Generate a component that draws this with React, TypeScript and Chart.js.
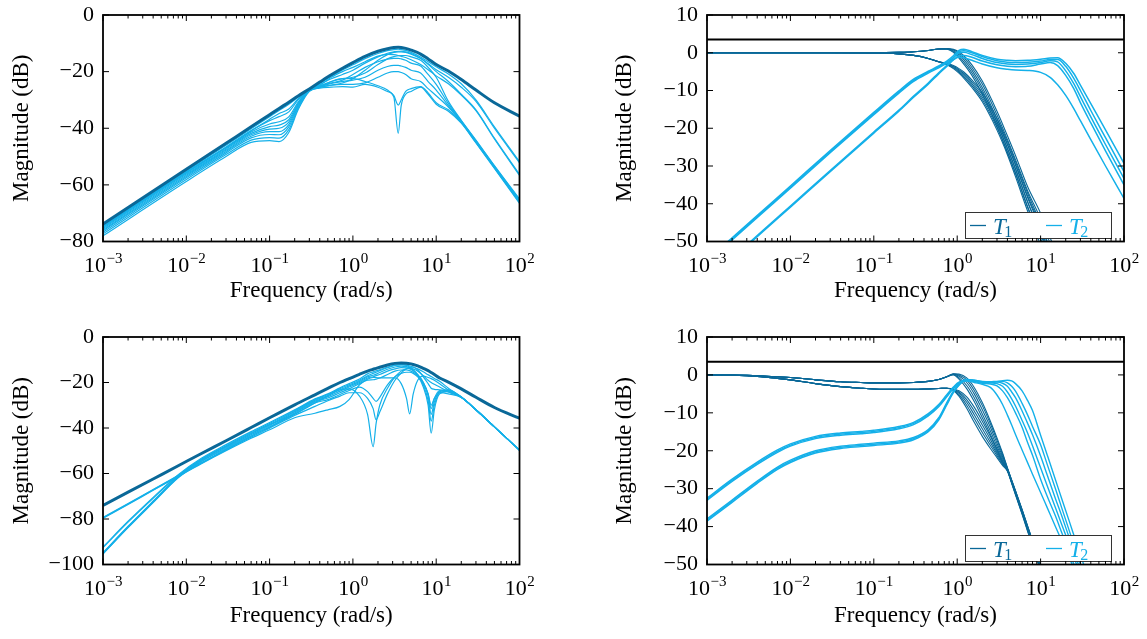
import React, { useEffect, useRef } from "react";
import { Chart, registerables } from "chart.js";

Chart.register(...registerables);

const DARK = "#0a6898";
const LIGHT = "#14b0e9";
const FONT = '"Liberation Serif", "Times New Roman", serif';

const X_TICK_VALUES = [0.001, 0.01, 0.1, 1, 10, 100];
const X_TICK_EXPONENTS = ["\u22123", "\u22122", "\u22121", "0", "1", "2"];
const X_TITLE = "Frequency (rad/s)";
const Y_TITLE = "Magnitude (dB)";
const LEGEND_LABELS = ["1", "2"];
const REF_FREQ = [0.001, 100];
const REF_LEVEL = [3.5, 3.5];

// ---------- Panel A (top-left) ----------
const FREQ_A = [0.001, 0.01, 0.03, 0.06, 0.1, 0.13, 0.17, 0.22, 0.3, 0.4, 0.55, 0.75, 1, 1.4, 2, 2.6, 3.1, 3.5, 3.8, 4.3, 5, 6.5, 8, 10, 14, 20, 30, 50, 100];
const A_DARK = [-73.8, -54.5, -45.3, -39.5, -35.2, -33.0, -30.8, -28.6, -26.1, -23.7, -21.1, -18.8, -16.8, -14.6, -12.8, -11.9, -11.5, -11.4, -11.5, -11.8, -12.4, -13.8, -15.5, -17.5, -19.8, -22.8, -26.5, -31.0, -35.7];
const A_L1 = [-74.3, -55.1, -46.0, -40.2, -35.9, -33.7, -31.5, -29.0, -26.3, -24.2, -21.6, -19.4, -17.6, -15.4, -13.6, -12.6, -12.2, -12.1, -12.2, -12.5, -13.2, -14.8, -16.5, -18.3, -20.8, -24.3, -30.0, -39.5, -51.8];
const A_L2 = [-74.6, -55.4, -46.6, -40.8, -37.3, -35.9, -34.2, -30.0, -26.3, -24.6, -22.5, -21.0, -19.5, -17.0, -14.8, -13.5, -13.0, -12.8, -12.8, -13.0, -13.6, -15.3, -17.4, -20.0, -23.5, -28.0, -33.5, -43.5, -56.3];
const A_L3 = [-75.0, -55.8, -47.0, -41.3, -38.5, -37.7, -36.0, -30.8, -26.4, -25.0, -23.5, -22.5, -22.0, -20.5, -17.5, -15.5, -14.7, -14.4, -14.3, -14.3, -14.8, -16.0, -18.5, -22.0, -30.5, -37.2, -44.2, -53.2, -65.0];
const A_L4 = [-75.4, -56.2, -47.4, -41.8, -39.4, -38.9, -37.0, -31.2, -26.5, -25.2, -24.0, -23.0, -21.0, -18.5, -16.5, -15.6, -15.3, -15.3, -15.5, -16.0, -17.0, -18.0, -21.0, -24.5, -31.3, -37.4, -44.4, -53.4, -65.3];
const A_L5 = [-75.8, -56.6, -47.8, -42.3, -40.3, -40.0, -37.8, -31.6, -26.6, -25.3, -24.2, -23.5, -23.0, -22.0, -19.5, -18.2, -17.8, -17.8, -18.0, -18.5, -19.5, -20.5, -23.5, -26.5, -32.0, -37.6, -44.6, -53.6, -65.6];
const A_L6 = [-76.2, -57.0, -48.2, -42.8, -41.2, -41.2, -38.7, -32.0, -26.7, -25.5, -24.8, -24.5, -24.5, -24.0, -22.0, -20.5, -20.0, -20.0, -20.3, -21.0, -22.5, -23.5, -26.0, -28.5, -32.5, -37.8, -44.8, -53.8, -65.9];
const A_L7 = [-76.7, -57.5, -48.7, -43.4, -42.2, -42.3, -39.5, -32.5, -26.8, -25.3, -23.5, -22.5, -22.5, -23.5, -25.0, -26.5, -28.5, -31.8, -30.0, -27.0, -26.0, -25.3, -27.5, -31.0, -33.5, -38.0, -45.0, -54.0, -66.2];
const A_L8 = [-77.3, -58.1, -49.3, -44.2, -43.3, -43.5, -40.5, -33.0, -26.9, -25.8, -25.5, -25.3, -25.5, -24.5, -25.5, -27.0, -29.0, -41.8, -32.0, -28.0, -27.0, -25.5, -28.0, -31.5, -34.0, -38.2, -45.2, -54.2, -66.5];
const A_L9 = [-78.0, -58.8, -50.0, -45.0, -44.4, -44.7, -41.5, -33.5, -27.0, -25.6, -24.8, -24.0, -22.5, -19.5, -16.0, -14.0, -13.2, -13.0, -13.0, -13.2, -13.8, -15.4, -17.2, -19.3, -22.0, -25.5, -30.5, -40.0, -52.2];
const A_L10 = [-74.8, -55.6, -46.8, -41.0, -36.8, -34.8, -33.2, -29.6, -26.3, -24.8, -22.0, -20.0, -18.5, -16.5, -14.5, -13.9, -14.0, -14.3, -14.6, -15.0, -15.8, -17.5, -19.3, -21.5, -24.3, -28.3, -33.8, -43.8, -56.7];

// ---------- Panel B (top-right) ----------
const FREQ_B = [0.001, 0.002, 0.005, 0.01, 0.03, 0.1, 0.2, 0.3, 0.45, 0.6, 0.75, 0.9, 1.05, 1.2, 1.5, 2, 3, 4, 5, 7, 10, 13, 16, 20, 25, 30, 40, 60, 100];
const B_T1_U1 = [0, 0, 0, 0, 0, 0, 0.1, 0.25, 0.6, 1.0, 1.1, 0.9, 0.2, -0.8, -3.2, -7.5, -15.5, -22.0, -27.2, -35.5, -42.5, -49.0, -54.0, -59.0, -64.0, -68.0, -75.0, -85.0, -98.0];
const B_T1_U2 = [0, 0, 0, 0, 0, 0, 0.1, 0.25, 0.6, 1.0, 1.1, 0.7, -0.2, -1.3, -3.9, -8.3, -16.5, -23.0, -28.3, -36.6, -44.0, -50.5, -55.5, -60.5, -65.5, -69.5, -76.5, -86.5, -99.5];
const B_T1_U3 = [0, 0, 0, 0, 0, 0, 0.1, 0.25, 0.6, 1.0, 1.05, 0.5, -0.6, -1.8, -4.6, -9.2, -17.5, -24.2, -29.5, -38.0, -45.8, -52.3, -57.3, -62.3, -67.3, -71.3, -78.3, -88.3, -101.0];
const B_T1_U4 = [0, 0, 0, 0, 0, 0, 0.1, 0.25, 0.6, 1.0, 1.0, 0.3, -1.0, -2.4, -5.3, -10.0, -18.5, -25.4, -30.8, -39.5, -47.5, -54.0, -59.0, -64.0, -69.0, -73.0, -80.0, -90.0, -103.0];
const B_T1_U5 = [0, 0, 0, 0, 0, 0, 0.1, 0.25, 0.6, 1.0, 0.95, 0.1, -1.4, -3.0, -6.0, -10.9, -19.5, -26.5, -32.0, -41.0, -49.2, -55.7, -60.7, -65.7, -70.7, -74.7, -81.7, -91.7, -105.0];
const B_T1_L1 = [0, 0, 0, 0, 0, -0.05, -0.3, -0.7, -1.5, -2.4, -3.2, -4.2, -5.4, -6.7, -9.2, -13.0, -20.5, -27.0, -32.8, -42.0, -51.0, -58.0, -63.0, -68.0, -73.0, -77.0, -84.0, -94.0, -107.0];
const B_T1_L2 = [0, 0, 0, 0, 0, -0.05, -0.3, -0.7, -1.5, -2.4, -3.1, -4.0, -5.1, -6.3, -8.7, -12.4, -19.8, -26.2, -31.8, -40.8, -49.5, -56.5, -61.5, -66.5, -71.5, -75.5, -82.5, -92.5, -105.0];
const B_T1_L3 = [0, 0, 0, 0, 0, -0.05, -0.3, -0.7, -1.5, -2.4, -3.0, -3.8, -4.8, -5.9, -8.2, -11.8, -19.0, -25.3, -30.8, -39.6, -48.0, -55.0, -60.0, -65.0, -70.0, -74.0, -81.0, -91.0, -104.0];
const B_T1_L4 = [0, 0, 0, 0, 0, -0.05, -0.3, -0.7, -1.5, -2.4, -2.9, -3.6, -4.5, -5.5, -7.7, -11.2, -18.2, -24.4, -29.8, -38.4, -46.6, -53.5, -58.5, -63.5, -68.5, -72.5, -79.5, -89.5, -102.0];
const B_T1_L5 = [0, 0, 0, 0, 0, -0.05, -0.3, -0.7, -1.5, -2.4, -2.8, -3.4, -4.2, -5.1, -7.2, -10.6, -17.4, -23.5, -28.8, -37.2, -45.2, -52.0, -57.0, -62.0, -67.0, -71.0, -78.0, -88.0, -101.0];
const B_T2_U1 = [-55.0, -49.0, -41.2, -35.3, -25.9, -15.8, -10.1, -7.0, -4.9, -3.5, -2.2, -0.8, 0.6, 0.9, 0.3, -0.7, -1.7, -2.0, -2.1, -2.0, -1.7, -1.4, -1.3, -2.8, -5.5, -8.6, -13.5, -20.4, -29.3];
const B_T2_D1 = [-60.3, -54.4, -46.5, -40.6, -31.2, -21.0, -15.2, -11.5, -8.0, -5.3, -3.3, -1.3, 0.2, 0.5, 0.0, -1.0, -2.1, -2.5, -2.6, -2.5, -2.2, -1.8, -1.8, -3.6, -6.8, -10.0, -15.3, -22.5, -31.5];
const B_T2_U2 = [-55.3, -49.3, -41.5, -35.6, -26.2, -16.1, -10.4, -7.3, -5.1, -3.7, -2.5, -1.3, -0.1, 0.1, -0.5, -1.5, -2.6, -3.0, -3.1, -3.0, -2.6, -2.1, -2.4, -4.8, -8.2, -11.6, -17.0, -24.3, -33.3];
const B_T2_D2 = [-60.6, -54.7, -46.8, -40.9, -31.5, -21.3, -15.5, -11.8, -8.3, -5.6, -3.6, -1.9, -0.8, -0.7, -1.2, -2.2, -3.2, -3.6, -3.7, -3.6, -3.0, -2.6, -3.4, -6.0, -9.5, -13.2, -18.6, -26.0, -35.0];
const B_T2_U3 = [-55.6, -49.6, -41.8, -35.9, -26.5, -16.4, -10.7, -7.6, -5.4, -4.0, -2.8, -1.8, -1.2, -1.3, -2.0, -3.0, -4.0, -4.4, -4.6, -4.7, -5.2, -6.5, -8.5, -11.3, -14.8, -18.0, -23.0, -30.0, -38.6];

// ---------- Panel C (bottom-left) ----------
const FREQ_C = [0.001, 0.002, 0.004, 0.008, 0.015, 0.03, 0.06, 0.1, 0.2, 0.35, 0.5, 0.7, 0.9, 1.2, 1.5, 1.75, 1.9, 2.1, 2.6, 3.2, 3.8, 4.4, 4.8, 5.3, 6, 7, 8, 8.7, 9.5, 11, 14, 20, 30, 50, 100];
const C_DARK = [-74.0, -68.2, -62.4, -56.6, -51.3, -45.6, -39.8, -35.5, -29.8, -25.4, -22.6, -20.0, -18.3, -16.4, -15.0, -14.2, -13.8, -13.3, -12.3, -11.6, -11.4, -11.5, -11.7, -12.1, -12.7, -13.8, -14.8, -15.6, -16.5, -18.0, -19.8, -22.8, -26.5, -31.0, -35.7];
const C_L1 = [-79.3, -73.2, -67.0, -60.9, -55.4, -49.4, -43.6, -39.6, -34.0, -29.0, -25.8, -23.2, -22.8, -26.0, -34.0, -48.2, -38.0, -30.0, -22.5, -17.5, -15.0, -14.0, -13.8, -14.0, -15.0, -17.0, -19.0, -20.0, -20.8, -22.0, -24.0, -26.5, -32.0, -39.5, -49.7];
const C_L2 = [-79.5, -73.4, -67.2, -61.1, -55.6, -49.7, -44.0, -40.1, -34.5, -30.5, -28.0, -26.0, -24.5, -24.5, -27.0, -31.5, -36.4, -33.0, -25.0, -19.0, -15.8, -14.0, -13.4, -13.3, -14.5, -17.5, -20.5, -22.5, -23.0, -23.2, -24.2, -26.5, -32.1, -39.6, -49.8];
const C_L3 = [-79.7, -73.6, -67.4, -61.3, -55.8, -50.0, -44.5, -40.8, -35.5, -33.5, -32.0, -30.5, -27.5, -21.0, -18.5, -17.8, -17.8, -18.0, -18.0, -18.0, -20.5, -27.0, -33.8, -25.0, -19.0, -17.2, -17.8, -18.3, -19.0, -20.5, -23.3, -26.4, -32.0, -39.5, -49.7];
const C_L4 = [-94.8, -83.2, -72.1, -61.2, -54.0, -47.8, -42.0, -38.0, -32.3, -27.5, -25.3, -22.7, -21.0, -19.0, -17.0, -16.0, -15.5, -14.8, -13.5, -12.5, -12.2, -12.5, -13.2, -14.5, -17.0, -22.0, -30.0, -42.3, -32.0, -25.0, -24.0, -26.5, -32.0, -39.5, -49.7];
const C_L5 = [-95.0, -83.4, -72.4, -61.5, -54.3, -48.2, -42.5, -38.5, -32.6, -27.8, -25.7, -23.2, -21.5, -19.5, -17.5, -16.8, -16.3, -15.6, -14.2, -13.2, -12.8, -13.0, -13.5, -14.5, -16.5, -21.0, -28.0, -37.0, -30.0, -24.5, -23.8, -26.5, -32.0, -39.5, -49.7];
const C_L6 = [-95.2, -83.6, -72.6, -61.7, -54.6, -48.6, -43.0, -39.0, -33.0, -28.2, -26.2, -23.8, -22.0, -20.0, -18.0, -17.5, -17.0, -16.5, -15.0, -14.0, -13.5, -13.6, -14.0, -14.8, -16.5, -20.0, -26.0, -34.0, -28.5, -24.0, -23.5, -26.5, -32.0, -39.5, -49.7];
const C_L7 = [-95.4, -83.8, -72.8, -61.9, -54.9, -49.0, -43.5, -39.6, -33.4, -28.6, -26.8, -24.5, -22.8, -20.5, -19.0, -18.8, -18.5, -18.0, -16.5, -15.0, -14.5, -14.5, -14.8, -15.5, -17.0, -20.0, -25.0, -31.5, -27.0, -23.5, -23.2, -26.5, -32.0, -39.5, -49.7];
const C_L8 = [-92.6, -81.4, -70.9, -60.9, -53.9, -48.0, -42.4, -38.5, -33.8, -29.0, -27.5, -25.3, -23.5, -22.0, -24.0, -27.0, -28.3, -26.5, -21.0, -17.5, -16.0, -15.5, -15.5, -16.0, -17.5, -20.5, -25.0, -30.0, -27.0, -24.5, -25.0, -26.6, -32.0, -39.5, -49.7];
const C_L9 = [-92.3, -81.0, -70.5, -60.5, -53.4, -47.3, -41.6, -37.6, -32.0, -27.2, -25.0, -22.3, -20.5, -18.5, -16.2, -15.3, -14.9, -14.4, -13.3, -12.4, -12.1, -12.3, -12.7, -13.2, -14.0, -15.3, -16.6, -17.4, -18.2, -19.5, -22.5, -26.3, -32.0, -39.5, -49.7];

// ---------- Panel D (bottom-right) ----------
const FREQ_D = [0.001, 0.002, 0.004, 0.007, 0.01, 0.02, 0.04, 0.07, 0.1, 0.2, 0.3, 0.45, 0.6, 0.75, 0.9, 1.05, 1.3, 1.6, 2, 2.5, 3, 3.5, 4, 4.5, 5, 6, 7, 8, 10, 12, 15, 18, 22, 27, 35, 50, 100];
const D_T1_U1 = [0, -0.05, -0.2, -0.5, -0.7, -1.3, -1.8, -2.0, -2.1, -2.1, -2.0, -1.7, -1.2, -0.5, 0.3, 0.2, -0.8, -3.3, -7.3, -12.2, -16.6, -20.6, -24.5, -27.7, -30.5, -35.5, -39.9, -43.7, -50.2, -55.7, -61.7, -66.7, -71.7, -77.7, -84.7, -94.7, -112.7];
const D_T1_U2 = [0, -0.05, -0.2, -0.5, -0.7, -1.3, -1.8, -2.0, -2.1, -2.1, -2.0, -1.7, -1.2, -0.5, 0.25, 0.0, -1.3, -4.1, -8.1, -12.9, -17.2, -21.0, -24.6, -27.8, -30.6, -35.6, -40.0, -43.8, -50.3, -55.8, -61.8, -66.8, -71.8, -77.8, -84.8, -94.8, -112.8];
const D_T1_U3 = [0, -0.05, -0.2, -0.5, -0.7, -1.3, -1.8, -2.0, -2.1, -2.1, -2.0, -1.7, -1.2, -0.5, 0.2, -0.3, -2.0, -5.0, -9.2, -13.8, -18.0, -21.5, -24.7, -27.9, -30.7, -35.7, -40.1, -43.9, -50.4, -55.9, -61.9, -66.9, -71.9, -77.9, -84.9, -94.9, -112.9];
const D_T1_U4 = [0, -0.05, -0.2, -0.5, -0.7, -1.3, -1.8, -2.0, -2.1, -2.1, -2.0, -1.7, -1.2, -0.5, 0.1, -0.7, -2.8, -6.0, -10.3, -14.8, -18.8, -22.0, -24.8, -28.0, -30.8, -35.8, -40.2, -44.0, -50.5, -56.0, -62.0, -67.0, -72.0, -78.0, -85.0, -95.0, -113.0];
const D_T1_U5 = [0, -0.05, -0.2, -0.5, -0.7, -1.3, -1.8, -2.0, -2.1, -2.1, -2.0, -1.7, -1.2, -0.5, 0.0, -1.1, -3.6, -7.0, -11.3, -15.7, -19.5, -22.5, -24.9, -28.1, -30.9, -35.9, -40.3, -44.1, -50.6, -56.1, -62.1, -67.1, -72.1, -78.1, -85.1, -95.1, -113.1];
const D_T1_L1 = [0, -0.1, -0.4, -0.9, -1.3, -2.3, -3.1, -3.5, -3.7, -3.8, -3.8, -3.7, -3.6, -3.5, -3.7, -4.2, -5.8, -8.5, -12.2, -16.2, -19.8, -22.8, -25.0, -28.2, -31.0, -36.1, -40.5, -44.3, -50.8, -56.3, -62.3, -67.3, -72.3, -78.3, -85.3, -95.3, -113.3];
const D_T1_L2 = [0, -0.1, -0.4, -0.9, -1.3, -2.3, -3.1, -3.5, -3.7, -3.8, -3.8, -3.7, -3.6, -3.5, -3.8, -4.5, -6.5, -9.5, -13.2, -17.0, -20.3, -23.0, -25.1, -28.3, -31.2, -36.3, -40.7, -44.5, -51.0, -56.5, -62.5, -67.5, -72.5, -78.5, -85.5, -95.5, -113.5];
const D_T1_L3 = [0, -0.1, -0.4, -0.9, -1.3, -2.3, -3.1, -3.5, -3.7, -3.8, -3.8, -3.7, -3.6, -3.5, -3.9, -4.8, -7.2, -10.5, -14.2, -17.8, -20.8, -23.3, -25.2, -28.4, -31.3, -36.4, -40.9, -44.7, -51.2, -56.7, -62.7, -67.7, -72.7, -78.7, -85.7, -95.7, -113.7];
const D_T1_L4 = [0, -0.1, -0.4, -0.9, -1.3, -2.3, -3.1, -3.5, -3.7, -3.8, -3.8, -3.7, -3.6, -3.5, -4.0, -5.2, -8.0, -11.5, -15.2, -18.6, -21.3, -23.6, -25.3, -28.5, -31.5, -36.6, -41.1, -44.9, -51.4, -56.9, -62.9, -67.9, -72.9, -78.9, -85.9, -95.9, -113.9];
const D_T1_L5 = [0, -0.1, -0.4, -0.9, -1.3, -2.3, -3.1, -3.5, -3.7, -3.8, -3.8, -3.7, -3.6, -3.5, -4.1, -5.6, -8.8, -12.5, -16.2, -19.4, -21.8, -23.9, -25.4, -28.6, -31.6, -36.8, -41.3, -45.1, -51.6, -57.1, -63.1, -68.1, -73.1, -79.1, -86.1, -96.1, -114.1];
const D_T2_E1 = [-32.5, -27.5, -23.0, -19.8, -18.2, -16.2, -15.3, -14.9, -14.6, -13.6, -12.5, -10.2, -7.8, -5.2, -3.2, -1.9, -1.6, -2.0, -2.5, -3.3, -5.3, -7.8, -10.6, -13.2, -15.7, -19.8, -23.2, -26.2, -31.0, -35.0, -39.9, -43.8, -48.2, -52.6, -58.2, -66.0, -81.0];
const D_T2_E2 = [-38.0, -33.0, -28.0, -24.3, -22.5, -20.0, -18.8, -18.3, -18.0, -17.4, -16.5, -14.4, -11.3, -7.3, -4.3, -2.5, -1.4, -1.8, -2.2, -2.4, -2.9, -4.2, -6.0, -8.0, -10.0, -13.8, -17.9, -21.2, -27.5, -32.0, -37.1, -41.7, -46.7, -51.8, -58.0, -67.0, -84.0];
const D_T2_E3 = [-32.8, -27.8, -23.3, -20.1, -18.5, -16.5, -15.6, -15.2, -14.9, -13.9, -12.8, -10.5, -8.1, -5.5, -3.4, -2.0, -1.3, -1.6, -2.0, -2.1, -2.3, -3.0, -4.5, -6.3, -8.2, -12.0, -15.4, -18.7, -24.5, -29.2, -34.9, -39.6, -44.7, -50.0, -56.5, -66.0, -84.0];
const D_T2_E4 = [-38.3, -33.3, -28.3, -24.6, -22.8, -20.3, -19.1, -18.6, -18.3, -17.7, -16.8, -14.7, -11.6, -7.6, -4.5, -2.6, -1.3, -1.5, -1.9, -1.9, -1.9, -2.2, -3.0, -4.5, -6.0, -9.5, -12.8, -15.8, -21.4, -26.4, -32.5, -37.3, -42.9, -48.6, -55.7, -65.5, -84.0];
const D_T2_E5 = [-33.1, -28.1, -23.6, -20.4, -18.8, -16.8, -15.9, -15.5, -15.2, -14.2, -13.1, -10.8, -8.4, -5.8, -3.6, -2.1, -1.2, -1.4, -1.7, -1.8, -1.7, -1.7, -2.1, -3.0, -4.3, -7.5, -10.6, -13.6, -18.4, -23.6, -29.9, -35.2, -41.0, -46.9, -54.3, -64.5, -84.0];
const D_T2_E6 = [-38.6, -33.6, -28.6, -24.9, -23.1, -20.6, -19.4, -18.9, -18.6, -18.0, -17.1, -15.0, -11.9, -7.9, -4.7, -2.7, -1.2, -1.4, -1.8, -2.0, -1.8, -1.5, -1.4, -1.6, -2.3, -4.2, -6.8, -9.4, -15.9, -21.1, -27.5, -32.8, -38.5, -44.4, -51.8, -62.0, -82.0];

type Series = { freq: number[]; values: number[]; color: string; width: number };
type Panel = {
  key: string;
  left: number;
  top: number;
  width: number;
  height: number;
  area: { left: number; top: number; right: number; bottom: number };
  yMin: number;
  yMax: number;
  yStep: number;
  yTitlePad: number;
  xTitlePad: number;
  legend: boolean;
  series: Series[];
};

const s = (freq: number[], values: number[], color: string, width: number): Series => ({ freq, values, color, width });

const PANELS: Panel[] = [
  {
    key: "a", left: 0, top: 0, width: 560, height: 320,
    area: { left: 103, top: 15, right: 519.5, bottom: 241.5 },
    yMin: -80, yMax: 0, yStep: 20, yTitlePad: 8.2, xTitlePad: 15.2, legend: false,
    series: [
      s(FREQ_A, A_DARK, DARK, 3),
      ...[A_L1, A_L2, A_L3, A_L4, A_L5, A_L6, A_L7, A_L8, A_L9, A_L10].map((v) => s(FREQ_A, v, LIGHT, 1.2)),
    ],
  },
  {
    key: "b", left: 560, top: 0, width: 587, height: 320,
    area: { left: 147, top: 15, right: 564, bottom: 241.5 },
    yMin: -50, yMax: 10, yStep: 10, yTitlePad: 51.2, xTitlePad: 15.2, legend: true,
    series: [
      s(REF_FREQ, REF_LEVEL, "#000", 2),
      ...[B_T2_U1, B_T2_D1, B_T2_U2, B_T2_D2, B_T2_U3].map((v) => s(FREQ_B, v, LIGHT, 1.5)),
      ...[B_T1_U1, B_T1_U2, B_T1_U3, B_T1_U4, B_T1_U5, B_T1_L1, B_T1_L2, B_T1_L3, B_T1_L4, B_T1_L5].map((v) => s(FREQ_B, v, DARK, 1.1)),
    ],
  },
  {
    key: "c", left: 0, top: 320, width: 560, height: 319,
    area: { left: 103, top: 17, right: 519.5, bottom: 244.5 },
    yMin: -100, yMax: 0, yStep: 20, yTitlePad: 8.2, xTitlePad: 9.5, legend: false,
    series: [
      s(FREQ_C, C_DARK, DARK, 3),
      ...[C_L1, C_L2, C_L3, C_L4, C_L5, C_L6, C_L7, C_L8, C_L9].map((v) => s(FREQ_C, v, LIGHT, 1.2)),
    ],
  },
  {
    key: "d", left: 560, top: 320, width: 587, height: 319,
    area: { left: 147, top: 17, right: 564, bottom: 244.5 },
    yMin: -50, yMax: 10, yStep: 10, yTitlePad: 51.2, xTitlePad: 9.5, legend: true,
    series: [
      s(REF_FREQ, REF_LEVEL, "#000", 2),
      ...[D_T2_E1, D_T2_E2, D_T2_E3, D_T2_E4, D_T2_E5, D_T2_E6].map((v) => s(FREQ_D, v, LIGHT, 1.4)),
      ...[D_T1_U1, D_T1_U2, D_T1_U3, D_T1_U4, D_T1_U5, D_T1_L1, D_T1_L2, D_T1_L3, D_T1_L4, D_T1_L5].map((v) => s(FREQ_D, v, DARK, 1.1)),
    ],
  },
];

const framePlugin = {
  id: "frame",
  afterDraw(chart: any, _args: any, opts: any) {
    const ctx = chart.ctx as CanvasRenderingContext2D;
    const a = chart.chartArea;
    const xs = chart.scales.x;
    const ys = chart.scales.y;
    ctx.save();

    if (opts && opts.legend) {
      const w = 146;
      const h = 26;
      const x0 = Math.round(a.right - 13.5 - w) + 0.5;
      const y0 = Math.round(a.bottom - 4 - h) + 0.5;
      ctx.fillStyle = "#fff";
      ctx.fillRect(x0, y0, w, h);
      ctx.strokeStyle = "#333";
      ctx.lineWidth = 1;
      ctx.strokeRect(x0, y0, w, h);
      const cy = y0 + h / 2;
      const entries = [
        { color: DARK, dx: 4.5 },
        { color: LIGHT, dx: 80.5 },
      ];
      entries.forEach((e, i) => {
        ctx.strokeStyle = e.color;
        ctx.lineWidth = 1.3;
        ctx.beginPath();
        ctx.moveTo(x0 + e.dx, cy);
        ctx.lineTo(x0 + e.dx + 16, cy);
        ctx.stroke();
        ctx.fillStyle = e.color;
        ctx.textAlign = "left";
        ctx.textBaseline = "alphabetic";
        ctx.font = `italic 23px ${FONT}`;
        const tx = x0 + e.dx + 23;
        ctx.fillText("T", tx, cy + 8);
        const tw = ctx.measureText("T").width;
        ctx.font = `16px ${FONT}`;
        ctx.fillText(LEGEND_LABELS[i], tx + tw - 1.5, cy + 11.5);
      });
    }

    // frame
    ctx.strokeStyle = "#000";
    ctx.lineWidth = 1.8;
    ctx.strokeRect(a.left, a.top, a.right - a.left, a.bottom - a.top);

    // x tick marks (inside, bottom and top)
    ctx.lineWidth = 1;
    ctx.beginPath();
    for (let d = -3; d <= 2; d++) {
      for (let k = 1; k <= 9; k++) {
        const v = k * Math.pow(10, d);
        if (v > 100 * 1.0001) break;
        const px = xs.getPixelForValue(v);
        const len = k === 1 ? 6 : 3.5;
        ctx.moveTo(px, a.bottom);
        ctx.lineTo(px, a.bottom - len);
        ctx.moveTo(px, a.top);
        ctx.lineTo(px, a.top + len);
      }
    }
    // y tick marks (inside, left and right)
    ys.ticks.forEach((t: any) => {
      const py = ys.getPixelForValue(t.value);
      ctx.moveTo(a.left, py);
      ctx.lineTo(a.left + 6, py);
      ctx.moveTo(a.right, py);
      ctx.lineTo(a.right - 6, py);
    });
    ctx.stroke();

    // x tick labels with superscripts
    ctx.fillStyle = "#000";
    ctx.textBaseline = "alphabetic";
    ctx.textAlign = "left";
    X_TICK_VALUES.forEach((v, i) => {
      const px = xs.getPixelForValue(v);
      ctx.font = `22px ${FONT}`;
      const w1 = ctx.measureText("10").width;
      ctx.font = `15px ${FONT}`;
      const w2 = ctx.measureText(X_TICK_EXPONENTS[i]).width;
      const start = px - (w1 + w2) / 2;
      const base = a.bottom + 30;
      ctx.font = `22px ${FONT}`;
      ctx.fillText("10", start, base);
      ctx.font = `15px ${FONT}`;
      ctx.fillText(X_TICK_EXPONENTS[i], start + w1 + 0.5, base - 9);
    });

    ctx.restore();
  },
};

function PanelChart({ panel }: { panel: Panel }) {
  const ref = useRef<HTMLCanvasElement | null>(null);
  useEffect(() => {
    const canvas = ref.current;
    if (!canvas) return;
    const p = panel;
    const chart = new Chart(canvas, {
      type: "line",
      data: {
        datasets: p.series.map((ser) => ({
          data: ser.freq.map((f, i) => ({ x: f, y: ser.values[i] })),
          borderColor: ser.color,
          backgroundColor: ser.color,
          borderWidth: ser.width,
          pointRadius: 0,
          fill: false,
          cubicInterpolationMode: "monotone",
          borderJoinStyle: "round",
        })),
      },
      options: {
        animation: false,
        responsive: false,
        maintainAspectRatio: false,
        devicePixelRatio: 1,
        events: [],
        layout: {
          padding: { left: 0, top: p.area.top, right: p.width - p.area.right, bottom: 0 },
        },
        plugins: {
          legend: { display: false },
          tooltip: { enabled: false },
          frame: { legend: p.legend },
        },
        scales: {
          x: {
            type: "logarithmic",
            min: 0.001,
            max: 100,
            grid: { display: false, drawTicks: false },
            border: { display: false },
            ticks: { display: false },
            title: {
              display: true,
              text: X_TITLE,
              color: "#000",
              font: { family: FONT, size: 23 },
              padding: { top: 0, bottom: p.xTitlePad },
            },
            afterFit: (sc: any) => {
              sc.height = p.height - p.area.bottom;
            },
          },
          y: {
            type: "linear",
            min: p.yMin,
            max: p.yMax,
            grid: { display: false, drawTicks: false },
            border: { display: false },
            ticks: {
              stepSize: p.yStep,
              padding: 9,
              color: "#000",
              font: { family: FONT, size: 22, lineHeight: 0.5 },
              callback: (v: any) => (Number(v) < 0 ? "\u2212" + Math.abs(Number(v)) : String(v)),
            },
            title: {
              display: true,
              text: Y_TITLE,
              color: "#000",
              font: { family: FONT, size: 23 },
              padding: { top: p.yTitlePad, bottom: 0 },
            },
            afterFit: (sc: any) => {
              sc.width = p.area.left;
            },
          },
        },
      } as any,
      plugins: [framePlugin as any],
    });
    return () => chart.destroy();
  }, [panel]);
  return (
    <canvas
      ref={ref}
      width={panel.width}
      height={panel.height}
      style={{ position: "absolute", left: panel.left, top: panel.top, width: panel.width, height: panel.height }}
    />
  );
}

export default function App() {
  return (
    <div style={{ position: "fixed", left: 0, top: 0, width: 1147, height: 639, background: "#fff", overflow: "hidden" }}>
      {PANELS.map((p) => (
        <PanelChart key={p.key} panel={p} />
      ))}
    </div>
  );
}
